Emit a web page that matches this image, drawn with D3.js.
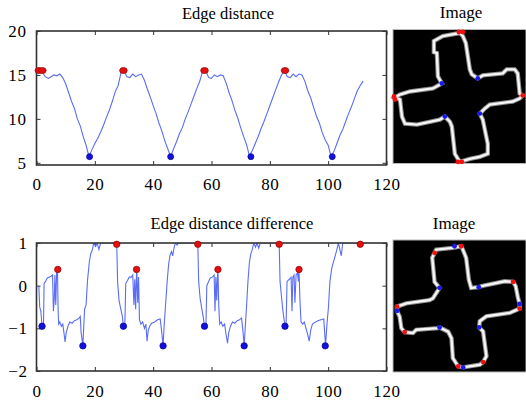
<!DOCTYPE html>
<html><head><meta charset="utf-8">
<script src="https://cdn.jsdelivr.net/npm/d3@7"></script>
<style>
body{margin:0;background:#fff;}
text{font-family:"Liberation Serif","Times New Roman",serif;fill:#000;}
</style>
</head><body>
<svg id="c" width="526" height="400"></svg>
<script>
// ---------- DATA ----------
const xTicks = [0, 20, 40, 60, 80, 100, 120];
const distTicks = [5, 10, 15, 20];
const diffTicks = [-2, -1, 0, 1];

// Edge distance, sampled at x = 0,1,2,...
const distValues = [15.5,15.5,15.3,14.8,14.6,14.8,15.0,14.9,15.1,14.7,
  14.0,13.0,12.0,11.2,10.0,9.2,8.0,7.0,5.7,6.5,
  7.2,7.8,8.5,9.3,10.2,11.0,12.0,13.1,13.8,15.3,
  15.5,14.8,14.7,15.1,14.8,15.0,15.1,14.4,13.4,12.5,
  11.5,10.6,9.5,8.6,7.5,6.6,5.7,6.6,7.4,8.3,
  9.0,10.0,10.8,11.7,12.6,13.5,14.3,15.5,15.5,14.7,
  14.6,15.0,14.8,15.0,14.9,14.1,13.0,12.1,11.0,10.1,
  9.0,8.0,7.1,5.8,6.4,7.2,8.0,8.9,9.7,10.6,
  11.5,12.4,13.3,14.2,15.0,15.5,14.8,14.7,15.1,14.8,
  15.1,15.0,14.3,13.2,12.4,11.3,10.3,9.5,8.4,7.6,
  7.0,5.7,6.3,7.2,8.1,8.8,9.7,10.6,11.4,12.3,
  13.2,13.8,14.3];
const distPeakX = [0.8, 2.0, 29.8, 57.6, 85.2];
const distPeakY = [15.5, 15.5, 15.5, 15.5, 15.5];
const distValleyX = [18.2, 46.0, 73.5, 101.4];
const distValleyY = [5.7, 5.7, 5.7, 5.7];

// Edge distance difference, [x, value]
const diffPoints = [
  [0.8,0.0],[1.1,-0.5],[1.5,-0.6],[1.9,-0.95],[2.4,-0.9],[2.6,0.05],[3.1,0.1],[3.7,0.18],[4.3,0.2],[5.0,0.22],
  [5.5,0.25],[5.8,-0.6],[6.1,-0.3],[6.3,0.25],[6.6,-0.45],[6.9,0.3],[7.2,0.4],[7.4,-0.55],[7.6,-0.9],[8.0,-0.85],
  [8.5,-0.95],[9.0,-0.9],[9.4,-1.1],[9.8,-1.32],[10.2,-1.1],[10.8,-0.95],[11.4,-0.85],[12.2,-0.88],[13.0,-0.82],[13.8,-0.8],
  [14.6,-0.76],[15.0,-0.72],[15.3,-1.1],[15.9,-1.4],[16.2,-0.95],[16.5,-0.55],[17.0,-0.45],[17.5,0.13],[18.1,0.55],[18.6,0.75],
  [19.2,0.85],[19.6,1.0],[20.3,0.92],[20.8,1.0],[21.4,0.85],[22.0,1.0],[27.5,1.0],
  [27.8,0.1],[28.3,-0.35],[28.9,-0.55],[29.4,-0.7],[29.8,-0.95],[30.3,-0.9],[30.6,0.05],[31.2,0.12],[31.8,0.2],
  [32.5,0.2],[33.0,0.25],[33.4,-0.45],[33.7,0.15],[34.0,-0.55],[34.3,0.3],[34.4,0.37],[34.7,-0.4],[35.0,0.2],[35.3,-0.8],
  [35.8,-0.9],[36.4,-0.85],[37.0,-1.0],[37.5,-0.9],[37.9,-1.3],[38.3,-1.05],[38.8,-0.95],[39.5,-0.88],[40.5,-0.85],[41.5,-0.8],
  [42.4,-0.78],[42.8,-1.0],[43.4,-1.4],[43.8,-0.9],[44.2,-0.5],[44.8,0.1],[45.3,0.5],[45.8,0.72],[46.3,0.8],[46.7,0.7],
  [47.2,0.9],[47.6,1.0],[48.2,0.95],[48.7,1.0],[55.3,1.0],
  [55.6,0.1],[56.1,-0.3],[56.7,-0.55],[57.2,-0.75],[57.6,-0.95],[58.1,-0.9],[58.4,0.0],[59.0,0.1],[59.6,0.18],[60.3,0.2],
  [60.9,0.25],[61.2,-0.6],[61.5,0.2],[61.8,-0.35],[62.1,0.3],[62.2,0.4],[62.5,-0.5],[62.8,-0.9],[63.3,-0.85],[63.9,-0.95],
  [64.5,-0.9],[65.0,-1.15],[65.5,-1.35],[65.9,-1.1],[66.5,-0.95],[67.2,-0.85],[68.0,-0.88],[68.8,-0.82],[69.6,-0.8],[70.3,-0.76],
  [70.7,-1.0],[71.2,-1.4],[71.6,-0.95],[72.0,-0.5],[72.5,0.1],[73.0,0.55],[73.5,0.75],[74.0,0.85],[74.5,1.0],[75.1,0.9],
  [75.6,1.0],[76.2,0.88],[76.7,1.0],[83.2,1.0],
  [83.5,0.1],[84.0,-0.26],[84.5,-0.6],[85.2,-0.95],[85.6,-0.85],[85.9,0.1],[86.7,0.15],[87.3,0.2],[87.6,-0.6],[87.9,0.2],
  [88.3,0.25],[88.6,-0.4],[89.0,0.25],[89.5,0.3],[89.8,0.1],[90.0,0.38],[90.3,-0.3],[90.7,-0.85],[91.3,-0.9],[91.8,-0.85],
  [92.4,-1.0],[93.0,-1.15],[93.5,-1.3],[94.0,-1.05],[94.6,-0.9],[95.5,-0.86],[96.5,-0.82],[97.5,-0.8],[98.5,-0.78],[98.8,-1.1],
  [99.1,-1.4],[99.6,-0.9],[100.1,-0.5],[100.6,0.1],[101.2,0.4],[101.8,0.55],[102.4,0.7],[102.9,0.82],[103.5,1.0],[104.0,0.85],
  [104.5,0.7],[105.0,1.0],[111.0,1.0],[112.5,1.0]
];
const diffTopRedX = [27.5, 55.3, 83.2, 111.0];
const diffTopRedY = [0.97, 0.97, 0.97, 0.97];
const diffMidRedX = [7.3, 34.3, 62.2, 90.0];
const diffMidRedY = [0.38, 0.38, 0.38, 0.38];
const diffUpBlueX = [1.9, 29.8, 57.6, 85.2];
const diffUpBlueY = [-0.95, -0.95, -0.95, -0.95];
const diffLowBlueX = [15.9, 43.4, 71.2, 99.0];
const diffLowBlueY = [-1.41, -1.41, -1.41, -1.41];

// Contours in the 40x40 pixel images
const contour1 = [[20.1,1.05],[15.0,1.95],[12.3,3.45],[12.3,6.75],[13.2,7.05],[13.5,14.0],[14.7,16.1],[12.0,17.6],
  [5.1,18.5],[2.1,19.4],[0.6,20.3],[2.1,20.9],[2.7,26.0],[3.6,28.1],[7.2,28.4],[14.1,26.9],[15.6,26.0],[17.1,27.5],
  [17.7,29.0],[18.6,37.1],[20.1,39.5],[23.1,38.6],[26.1,38.0],[28.5,37.1],[28.5,34.1],[27.0,26.9],[26.1,25.1],[27.6,23.6],
  [29.1,22.4],[36.0,21.5],[38.1,20.6],[39.0,19.7],[38.1,19.1],[37.5,13.1],[36.6,11.9],[34.2,11.9],[33.0,13.1],[27.0,13.7],
  [25.5,14.6],[23.7,13.4],[23.1,11.9],[21.9,4.05],[21.0,1.95]];
const red1 = [[19.8,0.75],[21.0,0.75],[0.3,20.0],[0.6,20.9],[39.0,19.7],[19.5,39.5],[20.7,39.5]];
const blue1 = [[14.7,16.1],[25.5,14.6],[15.6,26.0],[26.1,25.1]];

const contour2 = [[13.0,2.9],[18.0,2.4],[20.5,1.9],[21.0,2.9],[22.0,5.4],[22.8,12.0],[23.5,14.5],[25.8,14.3],[26.6,14.0],
  [33.6,12.5],[36.1,12.7],[36.9,14.0],[37.6,17.6],[38.1,19.4],[38.1,20.8],[35.1,22.1],[28.1,23.1],[26.1,24.6],[25.9,26.5],
  [27.1,27.7],[28.1,35.2],[27.1,37.0],[26.1,37.8],[21.1,38.6],[19.6,38.3],[18.0,35.8],[17.6,29.8],[16.6,27.8],[14.0,26.5],
  [13.5,26.7],[7.0,27.2],[6.0,28.2],[3.5,27.9],[2.5,26.7],[2.0,23.2],[1.2,21.5],[1.2,20.2],[4.0,19.2],[11.0,18.2],
  [12.0,17.7],[14.0,14.5],[12.5,12.7],[11.8,5.4],[12.5,3.9]];
const red2 = [[12.5,3.9],[20.5,1.9],[1.2,20.2],[3.5,27.9],[19.6,38.3],[27.1,37.0],[38.1,20.8],[36.1,12.7]];
const blue2 = [[18.5,1.9],[14.0,14.5],[1.2,21.5],[14.0,26.5],[21.1,38.6],[25.9,26.5],[38.1,19.4],[25.8,14.3]];

// ---------- DRAW ----------
const FONT = '"Liberation Serif","Times New Roman",serif';
const svg = d3.select("#c");
const LINE = "#5a6df4", RED = "#e41010", BLUE = "#1010e0", FRAME = "#333";
const x = d3.scaleLinear().domain([0, 120]).range([36.5, 386.5]);
const yTop = d3.scaleLinear().domain([4.75, 20]).range([165, 31]);
const yBot = d3.scaleLinear().domain([-2, 1]).range([371, 243]);

function frameAndAxes(y, yTicks, xPad, yPad) {
  const [x0, x1] = x.range(), [yb, yt] = y.range();
  const g = svg.append("g");
  g.append("rect").attr("x", x0).attr("y", yt).attr("width", x1 - x0).attr("height", yb - yt)
    .attr("fill", "#fff");
  const style = a => {
    a.attr("font-family", FONT).attr("font-size", 17);
    a.select(".domain").remove();
    a.selectAll(".tick line").attr("stroke", FRAME);
    a.selectAll("text").style("font-size", "17px").style("letter-spacing", "0.6px")
      .style("font-family", FONT).attr("fill", "#000");
  };
  g.append("g").attr("transform", `translate(0,${yb})`)
    .call(d3.axisBottom(x).tickValues(xTicks).tickSizeInner(-4).tickSizeOuter(0).tickPadding(xPad).tickFormat(d3.format("d")))
    .call(style);
  g.append("g").attr("transform", `translate(0,${yt})`)
    .call(d3.axisTop(x).tickValues(xTicks).tickSizeInner(-4).tickSizeOuter(0).tickFormat(""))
    .call(style);
  g.append("g").attr("transform", `translate(${x0},0)`)
    .call(d3.axisLeft(y).tickValues(yTicks).tickSizeInner(-4).tickSizeOuter(0).tickPadding(yPad).tickFormat(d3.format("d")))
    .call(style);
  g.append("g").attr("transform", `translate(${x1},0)`)
    .call(d3.axisRight(y).tickValues(yTicks).tickSizeInner(-4).tickSizeOuter(0).tickFormat(""))
    .call(style);
  return g;
}
function drawFrame(y) {
  const [x0, x1] = x.range(), [yb, yt] = y.range();
  svg.append("rect").attr("x", x0).attr("y", yt).attr("width", x1 - x0).attr("height", yb - yt)
    .attr("fill", "none").attr("stroke", FRAME).attr("stroke-width", 1.6);
}
function dots(xs, ys, y, color, rx, ry) {
  svg.append("g").selectAll("ellipse").data(xs.map((d, i) => [d, ys[i]])).join("ellipse")
    .attr("cx", d => x(d[0])).attr("cy", d => y(d[1])).attr("rx", rx).attr("ry", ry)
    .attr("fill", color).attr("stroke", d3.color(color).darker(1.2)).attr("stroke-width", 0.8);
}

// Top chart
frameAndAxes(yTop, distTicks, 13, 10);
svg.append("path").datum(distValues)
  .attr("d", d3.line().x((d, i) => x(i)).y(d => yTop(d)))
  .attr("fill", "none").attr("stroke", LINE).attr("stroke-width", 1.1);
drawFrame(yTop);
dots(distPeakX, distPeakY, yTop, RED, 3.8, 3.0);
dots(distValleyX, distValleyY, yTop, BLUE, 3.0, 3.0);
svg.append("text").attr("x", 228).attr("y", 18.5).attr("text-anchor", "middle")
  .style("font-size", "16.5px").style("font-family", FONT).text("Edge distance");

// Bottom chart
frameAndAxes(yBot, diffTicks, 14, 9);
svg.append("clipPath").attr("id", "clipB").append("rect")
  .attr("x", x.range()[0]).attr("y", yBot.range()[1]).attr("width", x.range()[1] - x.range()[0])
  .attr("height", yBot.range()[0] - yBot.range()[1]);
svg.append("path").datum(diffPoints).attr("clip-path", "url(#clipB)")
  .attr("d", d3.line().x(d => x(d[0])).y(d => yBot(d[1])))
  .attr("fill", "none").attr("stroke", LINE).attr("stroke-width", 1.1);
drawFrame(yBot);
dots(diffTopRedX, diffTopRedY, yBot, RED, 3.2, 3.2);
dots(diffMidRedX, diffMidRedY, yBot, RED, 3.2, 3.2);
dots(diffUpBlueX, diffUpBlueY, yBot, BLUE, 3.2, 3.2);
dots(diffLowBlueX, diffLowBlueY, yBot, BLUE, 3.2, 3.2);
svg.append("text").attr("x", 232).attr("y", 229).attr("text-anchor", "middle")
  .style("font-size", "16.5px").style("font-family", FONT).text("Edge distance difference");

// Images
function imagePanel(top, bottom, contour, reds, blues, titleX, titleY) {
  const ix = d3.scaleLinear().domain([0, 40]).range([393, 526]);
  const iy = d3.scaleLinear().domain([0, 40]).range([top, bottom]);
  svg.append("rect").attr("x", 393).attr("y", top).attr("width", 133).attr("height", bottom - top)
    .attr("fill", "#000").attr("stroke", "#b8b8b8").attr("stroke-width", 1);
  const ln = d3.line().x(d => ix(d[0])).y(d => iy(d[1])).curve(d3.curveLinearClosed);
  svg.append("path").datum(contour).attr("d", ln).attr("fill", "none")
    .attr("stroke", "#8c8c8c").attr("stroke-width", 4.4).attr("stroke-linejoin", "miter");
  svg.append("path").datum(contour).attr("d", ln).attr("fill", "none")
    .attr("stroke", "#f6f6f6").attr("stroke-width", 2.4).attr("stroke-linejoin", "miter");
  svg.append("g").selectAll("circle").data(reds).join("circle")
    .attr("cx", d => ix(d[0])).attr("cy", d => iy(d[1])).attr("r", 2.4).attr("fill", "#f01010");
  svg.append("g").selectAll("circle").data(blues).join("circle")
    .attr("cx", d => ix(d[0])).attr("cy", d => iy(d[1])).attr("r", 2.4).attr("fill", "#1818f0");
  svg.append("text").attr("x", titleX).attr("y", titleY).attr("text-anchor", "middle")
    .style("font-size", "17px").style("font-family", FONT).text("Image");
}
imagePanel(29.5, 163.5, contour1, red1, blue1, 461, 18);
imagePanel(240, 372, contour2, red2, blue2, 454, 229);
</script>
</body></html>
